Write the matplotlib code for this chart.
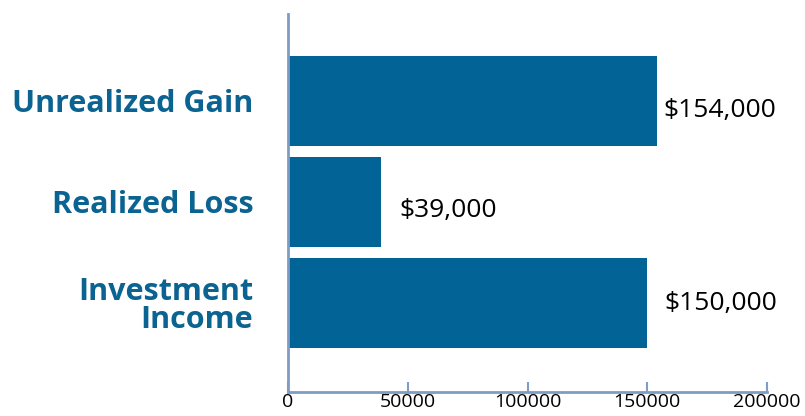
import matplotlib
matplotlib.use("Agg")
import matplotlib.pyplot as plt

categories = ["Investment\nIncome", "Realized Loss", "Unrealized Gain"]
values = [150000, 39000, 154000]
value_labels = ["$150,000", "$39,000", "$154,000"]
xticks = [0, 50000, 100000, 150000, 200000]

bar_color = "#026496"
label_color = "#0b6391"
spine_color = "#7f9cc4"

fig = plt.figure(figsize=(8.05, 4.16), dpi=100)
ax = fig.add_axes([0.3578, 0.0577, 0.595, 0.9086])

pos = list(range(len(categories)))
ax.barh(pos, values, height=0.89, color=bar_color)

# label offsets in points (x, y)
offsets = [(12, 0), (13, -6), (5, -7)]
for p, v, lab, off in zip(pos, values, value_labels, offsets):
    ax.annotate(lab, (v, p), xytext=off, textcoords="offset points",
                ha="left", va="center", fontsize=19, color="black",
                family="Open Sans")

ax.set_xlim(0, 200000)
ax.set_ylim(-0.88, 2.86)
ax.set_xticks(xticks)
ax.set_xticklabels([str(t) for t in xticks], fontsize=14, family="Open Sans")
ax.set_yticks(pos)
ax.set_yticklabels(categories, fontsize=22, fontweight="bold", color=label_color,
                   family="Open Sans", linespacing=0.95)
ax.tick_params(axis="y", length=0, pad=25)
ax.tick_params(axis="x", direction="in", length=7, width=1.5, color=spine_color, pad=1)
# nudge labels a little to match the original placement
for lab, dy in zip(ax.get_yticklabels(), [-0.08, 0.03, 0.03]):
    lab.set_y(lab.get_position()[1] + dy)

for s in ["top", "right"]:
    ax.spines[s].set_visible(False)
for s in ["left", "bottom"]:
    ax.spines[s].set_color(spine_color)
    ax.spines[s].set_linewidth(2)

fig.savefig("out.png", dpi=100)
